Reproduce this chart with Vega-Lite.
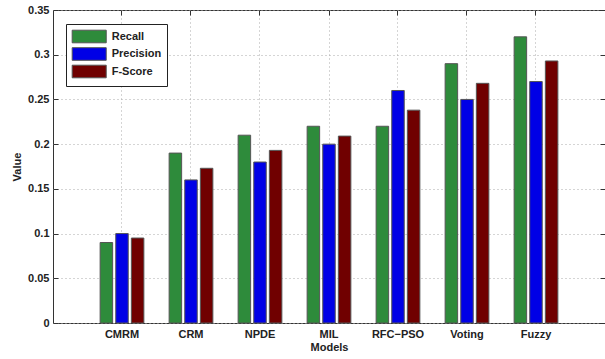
{
  "$schema": "https://vega.github.io/schema/vega-lite/v6.json",
  "width": 552,
  "height": 313,
  "autosize": {"type": "none"},
  "padding": {"left": 53, "top": 10, "right": 0, "bottom": 36},
  "config": {
    "font": "Liberation Sans",
    "view": {"stroke": "#333", "strokeWidth": 1},
    "axis": {
      "labelFont": "Liberation Sans",
      "labelFontWeight": "bold",
      "labelFontSize": 11,
      "labelColor": "#222",
      "titleFont": "Liberation Sans",
      "titleFontWeight": "bold",
      "titleFontSize": 11,
      "titleColor": "#222",
      "domainColor": "#333",
      "tickColor": "#333",
      "gridColor": "#aaa",
      "gridDash": [1, 3],
      "gridWidth": 1
    }
  },
  "data": {
    "values": [
      {"model": "CMRM", "metric": "Recall", "value": 0.09},
      {"model": "CMRM", "metric": "Precision", "value": 0.10},
      {"model": "CMRM", "metric": "F-Score", "value": 0.095},
      {"model": "CRM", "metric": "Recall", "value": 0.19},
      {"model": "CRM", "metric": "Precision", "value": 0.16},
      {"model": "CRM", "metric": "F-Score", "value": 0.173},
      {"model": "NPDE", "metric": "Recall", "value": 0.21},
      {"model": "NPDE", "metric": "Precision", "value": 0.18},
      {"model": "NPDE", "metric": "F-Score", "value": 0.193},
      {"model": "MIL", "metric": "Recall", "value": 0.22},
      {"model": "MIL", "metric": "Precision", "value": 0.20},
      {"model": "MIL", "metric": "F-Score", "value": 0.209},
      {"model": "RFC−PSO", "metric": "Recall", "value": 0.22},
      {"model": "RFC−PSO", "metric": "Precision", "value": 0.26},
      {"model": "RFC−PSO", "metric": "F-Score", "value": 0.238},
      {"model": "Voting", "metric": "Recall", "value": 0.29},
      {"model": "Voting", "metric": "Precision", "value": 0.25},
      {"model": "Voting", "metric": "F-Score", "value": 0.268},
      {"model": "Fuzzy", "metric": "Recall", "value": 0.32},
      {"model": "Fuzzy", "metric": "Precision", "value": 0.27},
      {"model": "Fuzzy", "metric": "F-Score", "value": 0.293}
    ]
  },
  "layer": [
    {
      "mark": {"type": "bar", "stroke": "#555", "strokeWidth": 1},
      "encoding": {
        "x": {
          "field": "model", "type": "nominal",
          "sort": ["CMRM", "CRM", "NPDE", "MIL", "RFC−PSO", "Voting", "Fuzzy"],
          "scale": {"paddingInner": 0.366, "paddingOuter": 0.683},
          "axis": {"title": "Models", "labelAngle": 0, "grid": true, "tickSize": -5, "labelPadding": 10, "titlePadding": 2, "domain": false}
        },
        "xOffset": {
          "field": "metric", "type": "nominal",
          "sort": ["Recall", "Precision", "F-Score"],
          "scale": {"paddingInner": 0.2}
        },
        "y": {
          "field": "value", "type": "quantitative",
          "scale": {"domain": [0, 0.35], "nice": false},
          "axis": {"title": "Value", "values": [0, 0.05, 0.1, 0.15, 0.2, 0.25, 0.3, 0.35], "format": "~g", "grid": true, "tickSize": -5, "labelPadding": 9, "titlePadding": 5, "domain": false}
        },
        "color": {
          "field": "metric", "type": "nominal",
          "sort": ["Recall", "Precision", "F-Score"],
          "scale": {"domain": ["Recall", "Precision", "F-Score"], "range": ["#2e8b3b", "#0000e6", "#700000"]},
          "legend": {
            "title": null,
            "orient": "none",
            "legendX": 13,
            "legendY": 14,
            "fillColor": "white",
            "strokeColor": "#222",
            "padding": 5.5,
            "cornerRadius": 0,
            "symbolType": "M-2.7,-1H2.7V1H-2.7Z",
            "symbolSize": 159,
            "symbolOffset": 10.7,
            "symbolStrokeColor": "#555",
            "symbolStrokeWidth": 1,
            "symbolOpacity": 1,
            "labelFont": "Liberation Sans",
            "labelFontSize": 11,
            "labelFontWeight": "bold",
            "labelColor": "#222",
            "labelOffset": 15.5,
            "rowPadding": -0.5
          }
        }
      }
    },
    {
      "mark": {"type": "bar", "opacity": 0},
      "encoding": {
        "x": {
          "field": "model", "type": "nominal",
          "sort": ["CMRM", "CRM", "NPDE", "MIL", "RFC−PSO", "Voting", "Fuzzy"],
          "axis": {"orient": "top", "title": null, "labels": false, "grid": false, "tickSize": -5, "domain": false}
        },
        "y": {
          "field": "value", "type": "quantitative",
          "axis": {"orient": "right", "title": null, "labels": false, "grid": false, "values": [0, 0.05, 0.1, 0.15, 0.2, 0.25, 0.3, 0.35], "tickSize": -5, "domain": false}
        }
      }
    }
  ],
  "resolve": {"axis": {"x": "independent", "y": "independent"}}
}
